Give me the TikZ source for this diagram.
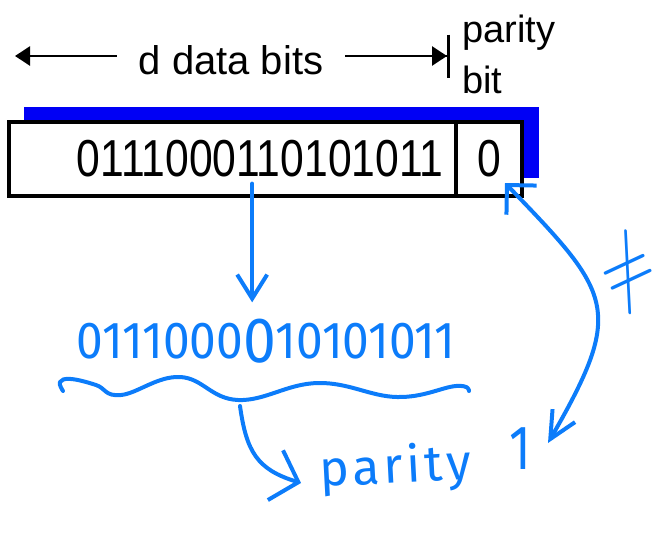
\documentclass[tikz,border=0pt]{standalone}
\usepackage{graphicx}
\usepackage{fontspec}
\setmainfont{Liberation Sans}
\newfontfamily\handfont{Fira Sans}
\usepackage{tikz}
\usetikzlibrary{arrows.meta}
\definecolor{penblue}{RGB}{12,124,250}
\definecolor{shadowblue}{RGB}{0,0,245}
\newcommand\narrow[1]{\scalebox{0.82}[1]{#1}}
\tikzstyle{cell}=[draw,line width=3.5pt,fill=white,minimum height=74pt,inner sep=0pt]
\tikzstyle{dim}=[line width=2.5pt]
\tikzstyle{pen}=[penblue,line width=4pt,line cap=round,line join=round]
\tikzstyle{hand}=[penblue,inner sep=0pt]
\begin{document}
\begin{tikzpicture}[x=1pt,y=-1pt]
	\useasboundingbox (0,0) rectangle (656,536);
	% frame with its shadow
	\fill[shadowblue] (24,107) rectangle (539,178);
	\node[cell,minimum width=447pt] (data) at (232.5,159) {};
	\node[cell,minimum width=66pt,font=\fontsize{52}{52}\selectfont] (pcell) at (489,159) {\narrow{0}};
	\node[anchor=east,inner sep=0pt,font=\fontsize{52}{52}\selectfont] (bits) at ([xshift=-14pt]data.east) {\narrow{0111000110101011}};
	% labels above
	\coordinate (dleft) at (15,56);
	\coordinate (dright) at (450,56);
	\node[font=\fontsize{40}{40}\selectfont,inner xsep=22pt,inner ysep=0pt,anchor=base] (dlabel) at (231,74) {d data bits};
	\draw[dim,-{Triangle[length=15pt,width=19pt]}] (dlabel.west |- dleft) -- (dleft);
	\draw[dim,-{Triangle[length=15pt,width=19pt]Bar[width=43pt,line width=3pt]}] (dlabel.east |- dright) -- (dright);
	\node[font=\fontsize{38}{51}\selectfont,align=left,anchor=base west,inner sep=0pt] (plabel) at (462,93) {parity\\bit};
	% hand written part
	\node[hand,anchor=base,font=\handfont\fontsize{52}{52}\selectfont] (hbits) at (266,358) {\scalebox{0.92}[1]{0111000\raisebox{-4pt}{\fontsize{64}{64}\selectfont 0}10101011}};
	\draw[pen,-{Straight Barb[length=24pt,width=30pt]},shorten >=16pt] ([xshift=-8pt,yshift=-6pt]bits.south) coordinate (dstart) -- (dstart |- hbits.north);
	\draw[pen] plot[smooth,tension=0.7] coordinates {(63,391) (60,382) (71,379) (96,385) (121,395) (180,377) (238,400) (318,383) (397,397) (456,386) (469,391)};
	\coordinate (wmid) at (240,406);
	\coordinate (ptxt) at (301,483);
	\draw[pen,-{Straight Barb[length=24pt,width=52pt]}] (wmid) to[out=-82,in=163,looseness=1.2] (ptxt);
	\node[hand,anchor=base west,rotate=3,font=\handfont\fontsize{50}{50}\selectfont\addfontfeature{LetterSpace=8}] (hpar) at (320,487) {parity};
	\node[hand,font=\handfont\fontsize{50}{50}\selectfont] (hone) at (520,449) {\scalebox{1}[1.25]{1}};
	\coordinate (ptip) at (505,183);
	\coordinate (otip) at (548,443);
	\draw[pen,{Straight Barb[length=21pt,width=42pt]}-{Straight Barb[length=27pt,width=26pt]}] (ptip) to[out=-46,in=60,looseness=1.5] (otip);
	\node[hand,rotate=25] (neq) at (628,272) {\scalebox{6.7}[8.5]{$\neq$}};
\end{tikzpicture}
\end{document}
